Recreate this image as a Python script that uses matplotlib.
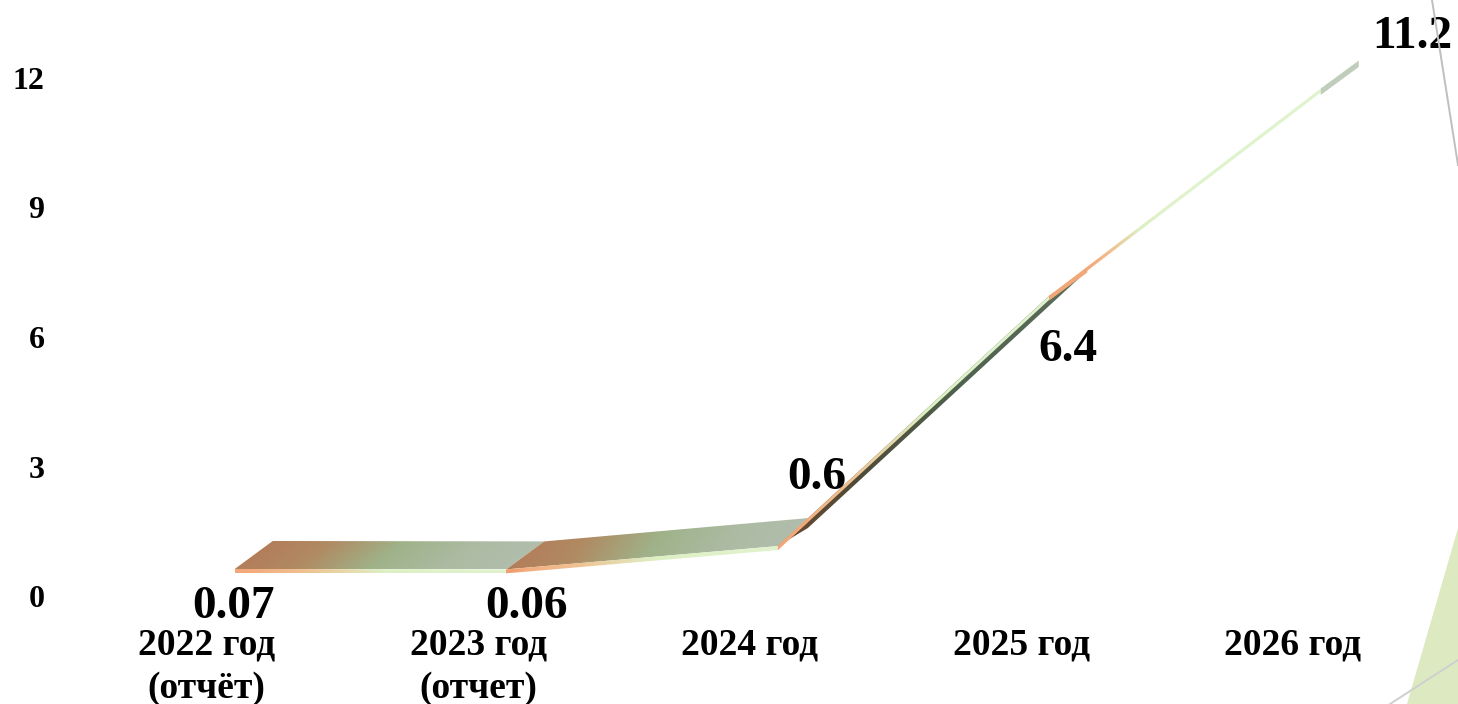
import numpy as np
import matplotlib
matplotlib.use("Agg")
import matplotlib.pyplot as plt
from matplotlib.patches import Polygon
from matplotlib.colors import LinearSegmentedColormap

categories = ["2022 год\n(отчёт)", "2023 год\n(отчет)", "2024 год", "2025 год", "2026 год"]
values = [0.07, 0.06, 0.6, 6.4, 11.2]
value_labels = ["0.07", "0.06", "0.6", "6.4", "11.2"]
y_ticks = [0, 3, 6, 9, 12]

W, H = 1458, 704
plt.rcParams["font.family"] = ["Liberation Serif", "DejaVu Serif"]
plt.rcParams["font.weight"] = "bold"
fig = plt.figure(figsize=(W / 100, H / 100), dpi=100, facecolor="white")

# page decoration (figure pixel coordinates, top-left origin)
def page(pts):
    return [(x / W, 1 - y / H) for x, y in pts]

fig.add_artist(Polygon(page([(1458, 528), (1407, 704), (1458, 704)]), closed=True,
                       facecolor="#DDE9C1", edgecolor="none", transform=fig.transFigure))
for seg, col in (([(1432, 0), (1458, 165)], "#BFBFBF"), ([(1458, 660), (1390, 704)], "#CFCFCF")):
    p = page(seg)
    fig.add_artist(plt.Line2D([p[0][0], p[1][0]], [p[0][1], p[1][1]], color=col,
                              lw=1.4, transform=fig.transFigure))

ax = fig.add_axes([71 / W, (H - 596) / H, (1428.5 - 71) / W, (596 - 78) / H])
ax.patch.set_alpha(0)
for s in ax.spines.values():
    s.set_visible(False)

PX_X = 271.5   # pixels per category
PX_Y = 518 / 12  # pixels per unit

surface = LinearSegmentedColormap.from_list("s", ["#B47A58", "#B08A62", "#9FB38A", "#ADBBA4", "#B2BEAE"])
under = LinearSegmentedColormap.from_list("u", [(0, "#6A4A30"), (0.25, "#4F4A38"), (0.6, "#4F6350"), (1, "#5E6E5A")])
edge = LinearSegmentedColormap.from_list("e", [(0, "#F3A679"), (0.25, "#F0C090"), (0.55, "#DDF0C4"), (1, "#E0F3CE")])

off_x, off_y = 28 / PX_X, 24 / PX_Y        # shift of the ribbon's front edge
edge_px = [4, 4, 4, 4]                     # height of the ribbon's edge per segment
depth_px = [38, 38, 30, 38, 38]            # depth of the ribbon at each category
depth_y = 28 / PX_Y

xs = np.arange(len(values), dtype=float)
fx = xs + off_x
fy = np.array(values) + off_y
bx = fx + np.array(depth_px) / PX_X
by = fy + depth_y


def shaded(poly, cmap, x0, x1, tilt=0.0, z=2):
    pts = np.array(poly)
    ylo, yhi = pts[:, 1].min(), pts[:, 1].max()
    u, v = np.meshgrid(np.linspace(0, 1, 300), np.linspace(0, 1, 120))
    t = np.clip((u * (pts[:, 0].max() - pts[:, 0].min()) + pts[:, 0].min() - x0) / (x1 - x0)
                + tilt * (v - 0.5), 0, 1)
    im = ax.imshow(t, cmap=cmap, vmin=0, vmax=1, aspect="auto", origin="lower",
                   extent=(pts[:, 0].min(), pts[:, 0].max(), ylo, yhi),
                   zorder=z, interpolation="bilinear")
    patch = Polygon(pts, closed=True, transform=ax.transData, facecolor="none", edgecolor="none")
    im.set_clip_box(fig.bbox)
    im.set_clip_path(patch)


# flat, visible top of the ribbon
for i in (0, 1):
    shaded([(fx[i], fy[i]), (fx[i + 1], fy[i + 1]), (bx[i + 1], by[i + 1]), (bx[i], by[i])],
           surface, fx[i], bx[i + 1], tilt=-0.12, z=2 + 0.1 * i)
# steep segment: dark underside shows below the edge
shaded([(fx[2], fy[2]), (fx[3], fy[3]),
        (fx[3] + 38 / PX_X, fy[3] + 25 / PX_Y), (fx[2] + 30 / PX_X, fy[2] + 18 / PX_Y)],
       under, fx[2], fx[3] + 38 / PX_X, z=2.2)

# front edge of the ribbon
for i in range(len(values) - 1):
    th = edge_px[i] / PX_Y
    start = bx[3] if i == 3 else fx[i]
    end = fx[i + 1] if i != 3 else bx[3] + 0.35
    shaded([(fx[i], fy[i]), (fx[i + 1], fy[i + 1]), (fx[i + 1], fy[i + 1] - th), (fx[i], fy[i] - th)],
           edge, start, end, z=3 + 0.1 * i)

# end caps where the ribbon turns
th = edge_px[0] / PX_Y
ax.add_patch(Polygon([(fx[1], fy[1]), (fx[1], fy[1] - th), (fx[1] + 0.5 * (bx[1] - fx[1]), fy[1])],
                     closed=True, facecolor="#EE9E6E", edgecolor="none", zorder=5, clip_on=False))
for i, col, k in ((2, "#F0A878", 1.0), (3, "#F0A878", 1.2), (4, "#C0CDBB", 1.6)):
    ax.add_patch(Polygon([(fx[i], fy[i]), (bx[i], by[i]), (bx[i], by[i] - k * th), (fx[i], fy[i] - k * th)],
                         closed=True, facecolor=col, edgecolor="none", zorder=5, clip_on=False))

# data labels, offset from their points (pixels)
label_offsets = [(27, -14), (48, -14), (67, 92), (47, -30), (120, 76)]
for i, (txt, (dx, dy)) in enumerate(zip(value_labels, label_offsets)):
    ax.annotate(txt, (xs[i], values[i]), xytext=(dx * 0.72, dy * 0.72), textcoords="offset points",
                ha="center", va="center", fontsize=34, fontweight="bold", color="black",
                zorder=6, annotation_clip=False)

ax.set_xlim(-0.5, 4.5)
ax.set_ylim(0, 12)
ax.set_xticks(xs, categories)
ax.set_yticks(y_ticks)
ax.tick_params(axis="both", length=0)
ax.tick_params(axis="y", labelsize=23, pad=19)
ax.tick_params(axis="x", labelsize=27, pad=23)
for t in ax.get_xticklabels():
    t.set_linespacing(1.3)
fig.savefig("out.png", dpi=100)
